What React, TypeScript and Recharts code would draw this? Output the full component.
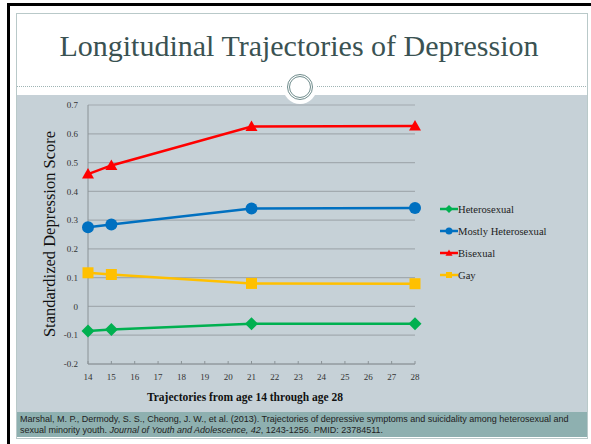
import React from 'react';
import { LineChart, Line, XAxis, YAxis, CartesianGrid, Legend } from 'recharts';

const ages = [14, 15, 21, 28];
const heterosexual = [-0.085, -0.08, -0.06, -0.06];
const mostlyHeterosexual = [0.275, 0.285, 0.34, 0.342];
const bisexual = [0.46, 0.49, 0.625, 0.627];
const gay = [0.117, 0.111, 0.08, 0.079];
const xTicks = [14, 15, 16, 17, 18, 19, 20, 21, 22, 23, 24, 25, 26, 27, 28];
const yTicks = [-0.2, -0.1, 0, 0.1, 0.2, 0.3, 0.4, 0.5, 0.6, 0.7];

const data = ages.map((age, i) => ({
  age,
  het: heterosexual[i],
  mostly: mostlyHeterosexual[i],
  bi: bisexual[i],
  gay: gay[i],
}));

const SERIES = [
  { key: 'het', name: 'Heterosexual', color: '#00b050', shape: 'diamond' },
  { key: 'mostly', name: 'Mostly Heterosexual', color: '#0070c0', shape: 'circle' },
  { key: 'bi', name: 'Bisexual', color: '#ff0000', shape: 'triangle' },
  { key: 'gay', name: 'Gay', color: '#ffc000', shape: 'square' },
];

function Marker({ cx, cy, shape, color, size = 6 }: any) {
  if (cx == null || cy == null) return null;
  if (shape === 'diamond') {
    const s = size + 0.5;
    return <path d={`M${cx},${cy - s}L${cx + s},${cy}L${cx},${cy + s}L${cx - s},${cy}Z`} fill={color} />;
  }
  if (shape === 'circle') return <circle cx={cx} cy={cy} r={size} fill={color} />;
  if (shape === 'triangle') {
    const s = size;
    return <path d={`M${cx},${cy - s}L${cx + s},${cy + s * 0.75}L${cx - s},${cy + s * 0.75}Z`} fill={color} />;
  }
  const s = size - 0.5;
  return <rect x={cx - s} y={cy - s} width={s * 2} height={s * 2} fill={color} />;
}

function LegendContent() {
  return (
    <div style={{ fontFamily: '"Liberation Serif", serif', fontSize: 10.6, color: '#222' }}>
      {SERIES.map((s) => (
        <div key={s.key} style={{ display: 'flex', alignItems: 'center', height: 22 }}>
          <svg width={18} height={10}>
            <line x1={0} y1={5} x2={18} y2={5} stroke={s.color} strokeWidth={2.5} />
            <Marker cx={9} cy={5} shape={s.shape} color={s.color} size={3.5} />
          </svg>
          <span>{s.name}</span>
        </div>
      ))}
    </div>
  );
}

const tickStyle = { fontFamily: '"Liberation Serif", serif', fontSize: 9, fill: '#333' };

export default function App() {
  return (
    <div style={{ position: 'fixed', left: 0, top: 0, width: 591, height: 444, background: '#fff', overflow: 'hidden' }}>
      {/* slide frame */}
      <div style={{ position: 'absolute', left: 7, top: 3, width: 3, height: 441, background: '#000' }} />
      <div style={{ position: 'absolute', left: 7, top: 3, width: 584, height: 3, background: '#000' }} />
      <div style={{ position: 'absolute', left: 16, top: 13, width: 570, height: 424, border: '1px solid #b9c9c9' }} />
      <div
        style={{
          position: 'absolute', left: 0, top: 29, width: 598, textAlign: 'center',
          fontFamily: '"Liberation Serif", serif', fontSize: 30, color: '#3a5252',
        }}
      >
        Longitudinal Trajectories of Depression
      </div>
      <div style={{ position: 'absolute', left: 17, top: 95, width: 570, height: 317, background: '#c6d1d7' }} />
      <div style={{ position: 'absolute', left: 17, top: 412, width: 570, height: 25, background: '#8eb0b0' }} />
      <svg style={{ position: 'absolute', left: 0, top: 0 }} width={591} height={444}>
        <line x1={17} y1={86.5} x2={586} y2={86.5} stroke="#9fb4b4" strokeDasharray="1 1" />
        <circle cx={300} cy={87} r={17} fill="#fff" />
        <circle cx={300} cy={87} r={12.5} fill="none" stroke="#6f8c8c" strokeWidth={1} />
        <circle cx={300} cy={87} r={10.5} fill="none" stroke="#6f8c8c" strokeWidth={1} />
      </svg>
      <div
        style={{
          position: 'absolute', left: 20, top: 414, width: 566, whiteSpace: 'nowrap',
          fontFamily: '"Liberation Sans", Arial, sans-serif', fontSize: 9, lineHeight: '11px', color: '#222',
        }}
      >
        <div>Marshal, M. P., Dermody, S. S., Cheong, J. W., et al. (2013). Trajectories of depressive symptoms and suicidality among heterosexual and</div>
        <div>
          sexual minority youth. <i>Journal of Youth and Adolescence, 42</i>, 1243-1256. PMID: 23784511.
        </div>
      </div>
      <div style={{ position: 'absolute', left: 50, top: 234, width: 0, height: 0 }}>
        <div
          style={{
            position: 'absolute', left: 0, top: 0, transform: 'translate(-50%, -50%) rotate(-90deg)',
            whiteSpace: 'nowrap', fontFamily: '"Liberation Serif", serif', fontSize: 16.5, color: '#111',
          }}
        >
          Standardized Depression Score
        </div>
      </div>
      <div
        style={{
          position: 'absolute', left: 95, top: 391, width: 300, textAlign: 'center',
          fontFamily: '"Liberation Serif", serif', fontSize: 11.5, fontWeight: 'bold', color: '#111',
        }}
      >
        Trajectories from age 14 through age 28
      </div>
      <div style={{ position: 'absolute', left: 16, top: 95 }}>
        <LineChart width={571} height={317} data={data} margin={{ top: 10, right: 172, left: 0, bottom: 0 }}>
          <CartesianGrid vertical={false} stroke="#a2aaaf" strokeWidth={1.2} />
          <XAxis
            dataKey="age"
            type="number"
            domain={[14, 28]}
            ticks={xTicks}
            interval={0}
            tick={tickStyle}
            tickSize={-3}
            tickMargin={13}
            stroke="#8a9296"
            height={48}
          />
          <YAxis
            type="number"
            domain={[-0.2, 0.7]}
            ticks={yTicks}
            interval={0}
            tick={tickStyle}
            tickLine={false}
            tickMargin={4}
            tickFormatter={(v: number) => String(Math.round(v * 10) / 10)}
            stroke="#8a9296"
            width={72}
          />
          <Legend
            layout="horizontal"
            verticalAlign="middle"
            align="center"
            wrapperStyle={{ left: 424, top: 103, width: 140 }}
            content={() => <LegendContent />}
          />
          {SERIES.map((s) => (
            <Line
              key={s.key}
              dataKey={s.key}
              name={s.name}
              stroke={s.color}
              strokeWidth={2.5}
              isAnimationActive={false}
              dot={(p: any) => <Marker key={p.key ?? `${s.key}-${p.index}`} cx={p.cx} cy={p.cy} shape={s.shape} color={s.color} />}
              activeDot={false}
            />
          ))}
        </LineChart>
      </div>
    </div>
  );
}
